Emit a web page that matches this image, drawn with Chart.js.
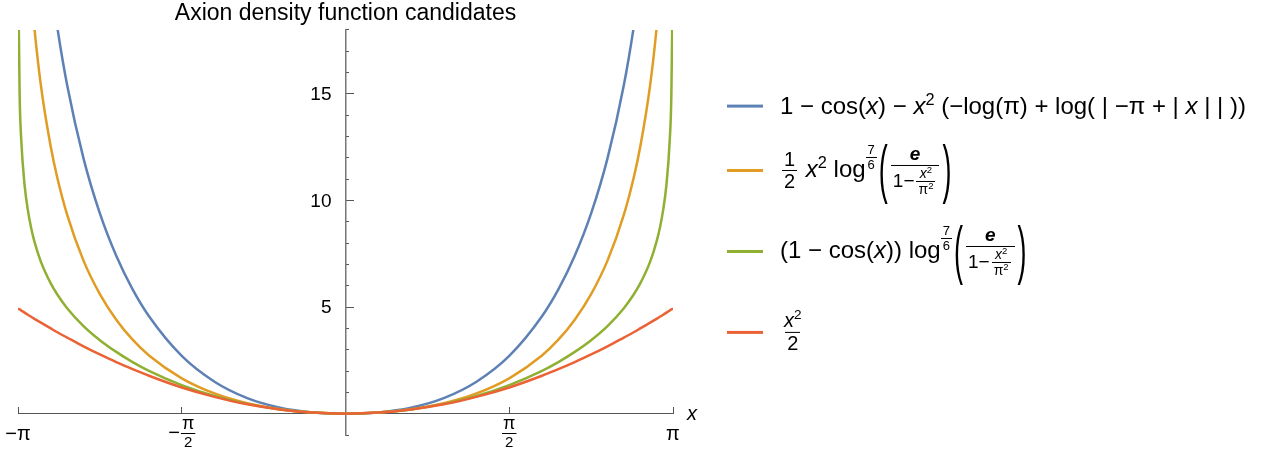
<!DOCTYPE html>
<html>
<head>
<meta charset="utf-8">
<script src="https://cdn.jsdelivr.net/npm/chart.js"></script>
<style>
  body { margin: 0; background: #fff; }
  #wrap { position: relative; width: 1263px; height: 450px; }
  #legend { position: absolute; left: 0; top: 0; font-family: "Liberation Sans", Arial, sans-serif; font-size: 24px; color: #000; }
  .item { position: absolute; left: 727px; display: flex; align-items: center; transform: translateY(-50%); white-space: nowrap; }
  .sw { display: inline-block; width: 36px; height: 3px; margin-right: 17px; flex: none; }
  .expr { display: inline-block; line-height: 1.2; }
  .frac { display: inline-flex; flex-direction: column; align-items: center; vertical-align: middle; line-height: 1.08; margin: 0 2px; }
  .frac > span { padding: 0 2px; }
  .frac > span + span { border-top: 1.5px solid #000; }
  .f20 { font-size: 20px; }
  .f19 { font-size: 19px; }
  .f13 { font-size: 13px; }
  .f14 { font-size: 14px; }
  .supfrac { vertical-align: 23px; margin: 0 1px 0 0; }
  sup { font-size: 0.68em; line-height: 0; vertical-align: 0.55em; }
  .paren { display: inline-block; vertical-align: middle; font-size: 27px; line-height: 1; transform: scaleY(2.4); margin: 0 1px; }
</style>
</head>
<body>
<div id="wrap">
  <canvas id="myChart"></canvas>
  <div id="legend">
    <div class="item" style="top:106px">
      <span class="sw" style="background:#5E81B5"></span>
      <span class="expr">1 − cos(<i>x</i>) − <i>x</i><sup>2</sup> (−log(π) + log( | −π + | <i>x</i> | | ))</span>
    </div>
    <div class="item" style="top:170px">
      <span class="sw" style="background:#E19C24"></span>
      <span class="expr"><span class="frac f20"><span>1</span><span>2</span></span> <i>x</i><sup>2</sup> log<span class="frac f13 supfrac"><span>7</span><span>6</span></span><span class="paren">(</span><span class="frac f19"><span><b><i>e</i></b></span><span>1−<span class="frac f14"><span><i>x</i><sup>2</sup></span><span>π<sup>2</sup></span></span></span></span><span class="paren">)</span></span>
    </div>
    <div class="item" style="top:251px">
      <span class="sw" style="background:#8FB032"></span>
      <span class="expr">(1 − cos(<i>x</i>)) log<span class="frac f13 supfrac"><span>7</span><span>6</span></span><span class="paren">(</span><span class="frac f19"><span><b><i>e</i></b></span><span>1−<span class="frac f14"><span><i>x</i><sup>2</sup></span><span>π<sup>2</sup></span></span></span></span><span class="paren">)</span></span>
    </div>
    <div class="item" style="top:332px">
      <span class="sw" style="background:#EB6235"></span>
      <span class="expr"><span class="frac f20"><span><i>x</i><sup>2</sup></span><span>2</span></span></span>
    </div>
  </div>
</div>
<script>
  // sample positions along x, as fractions of pi
  const xOverPi = [-1, -0.999, -0.995, -0.99, -0.98, -0.97, -0.96, -0.95, -0.93, -0.9, -0.88, -0.85, -0.8, -0.75, -0.7, -0.65, -0.6, -0.5, -0.4, -0.3, -0.2, -0.1,
    0, 0.1, 0.2, 0.3, 0.4, 0.5, 0.6, 0.65, 0.7, 0.75, 0.8, 0.85, 0.88, 0.9, 0.93, 0.95, 0.96, 0.97, 0.98, 0.99, 0.995, 0.999, 1];

  // 1 - cos(x) - x^2 (-log(pi) + log(|-pi + |x||))
  const cosLogValues = [null, null, null, null, null, null, null, null, null, 20.36, 18.13, 15.42, 11.98, 9.40, 7.41, 5.83, 4.57, 2.71, 1.50, 0.73, 0.28, 0.06,
    0, 0.06, 0.28, 0.73, 1.50, 2.71, 4.57, 5.83, 7.41, 9.40, 11.98, 15.42, 18.13, 20.36, null, null, null, null, null, null, null, null, null];

  // 1/2 x^2 log^(7/6)(e / (1 - x^2/pi^2))
  const halfSquareLogValues = [null, null, null, null, null, null, 19.91, 18.11, 15.39, 12.52, 11.07, 9.34, 7.18, 5.61, 4.41, 3.47, 2.73, 1.66, 0.95, 0.49, 0.21, 0.05,
    0, 0.05, 0.21, 0.49, 0.95, 1.66, 2.73, 3.47, 4.41, 5.61, 7.18, 9.34, 11.07, 12.52, 15.39, 18.11, 19.91, null, null, null, null, null, null];

  // (1 - cos(x)) log^(7/6)(e / (1 - x^2/pi^2))
  const cosPowerLogValues = [null, 20.06, 14.95, 12.82, 10.75, 9.56, 8.72, 8.08, 7.12, 6.11, 5.59, 4.95, 4.11, 3.45, 2.90, 2.42, 2.01, 1.34, 0.83, 0.46, 0.20, 0.05,
    0, 0.05, 0.20, 0.46, 0.83, 1.34, 2.01, 2.42, 2.90, 3.45, 4.11, 4.95, 5.59, 6.11, 7.12, 8.08, 8.72, 9.56, 10.75, 12.82, 14.95, 20.06, null];

  // x^2 / 2
  const halfSquareValues = [4.93, 4.92, 4.89, 4.84, 4.74, 4.64, 4.55, 4.45, 4.27, 4.00, 3.82, 3.57, 3.16, 2.78, 2.42, 2.09, 1.78, 1.23, 0.79, 0.44, 0.20, 0.05,
    0, 0.05, 0.20, 0.44, 0.79, 1.23, 1.78, 2.09, 2.42, 2.78, 3.16, 3.57, 3.82, 4.00, 4.27, 4.45, 4.55, 4.64, 4.74, 4.84, 4.89, 4.92, 4.93];

  const seriesColors = ['#5E81B5', '#E19C24', '#8FB032', '#EB6235'];

  const xTickValues = [-Math.PI, -Math.PI / 2, Math.PI / 2, Math.PI];
  const xTickLabels = ['−π', '−π/2', 'π/2', 'π'];
  const yTickLabels = [5, 10, 15];

  const FONT = '"Liberation Sans", Arial, sans-serif';
  const xs = xOverPi.map(t => t * Math.PI);
  const toPoints = vals => xs.map((x, i) => ({ x: x, y: vals[i] }));

  const seriesList = [cosLogValues, halfSquareLogValues, cosPowerLogValues, halfSquareValues];
  const datasets = seriesList.map((vals, i) => ({
    data: toPoints(vals),
    borderColor: seriesColors[i],
    borderWidth: 2.5,
    pointRadius: 0,
    cubicInterpolationMode: 'monotone',
    order: seriesList.length - i   // later curves sit on top
  }));

  // tick labels with stacked fractions (pi over 2) and the axis names
  const axisLabels = {
    id: 'axisLabels',
    afterDraw(chart) {
      const { ctx, scales } = chart;
      const sx = scales.x, sy = scales.y;
      const x0 = sx.getPixelForValue(0);
      const y0 = sy.getPixelForValue(0);
      ctx.save();
      ctx.fillStyle = '#000';
      ctx.strokeStyle = '#000';
      ctx.textBaseline = 'middle';

      ctx.font = '19px ' + FONT;
      ctx.textAlign = 'right';
      yTickLabels.forEach(v => ctx.fillText(String(v), x0 - 14, sy.getPixelForValue(v) + 1));

      xTickValues.forEach((v, i) => {
        const px = sx.getPixelForValue(v);
        let label = xTickLabels[i];
        const neg = label.startsWith('−');
        if (neg) label = label.slice(1);
        ctx.font = '20px ' + FONT;
        const minusW = neg ? ctx.measureText('−').width + 1 : 0;
        if (label.includes('/')) {
          const [num, den] = label.split('/');
          ctx.font = '18px ' + FONT;
          const fw = Math.max(ctx.measureText(num).width, 10) + 2;
          const left = px - (minusW + fw) / 2;
          if (neg) {
            ctx.font = '20px ' + FONT;
            ctx.textAlign = 'left';
            ctx.fillText('−', left, 433);
          }
          const cx = left + minusW + fw / 2;
          ctx.textAlign = 'center';
          ctx.font = '18px ' + FONT;
          ctx.fillText(num, cx, 424);
          ctx.font = '15px ' + FONT;
          ctx.fillText(den, cx, 443);
          ctx.lineWidth = 1;
          ctx.beginPath();
          ctx.moveTo(cx - fw / 2, 433.5);
          ctx.lineTo(cx + fw / 2, 433.5);
          ctx.stroke();
        } else {
          ctx.font = '20px ' + FONT;
          ctx.textAlign = 'center';
          ctx.fillText((neg ? '−' : '') + label, px, 434);
        }
      });

      ctx.font = 'italic 20px ' + FONT;
      ctx.textAlign = 'left';
      ctx.fillText('x', sx.right + 14, y0 + 1);
      ctx.restore();
    }
  };

  const ctx = document.getElementById('myChart');

  new Chart(ctx, {
    type: 'line',
    data: { datasets: datasets },
    plugins: [axisLabels],
    options: {
      responsive: true,
      maintainAspectRatio: false,
      animation: false,
      events: [],
      layout: { padding: { left: 18, right: 590, top: 0, bottom: 15 } },
      plugins: {
        legend: { display: false },
        tooltip: { enabled: false },
        title: {
          display: true,
          text: 'Axion density function candidates',
          color: '#000',
          font: { family: FONT, size: 23, weight: 'normal' },
          lineHeight: 1.2,
          padding: { top: 0, bottom: 2.4 }
        }
      },
      scales: {
        x: {
          type: 'linear',
          min: -Math.PI,
          max: Math.PI,
          position: { y: 0 },
          afterBuildTicks: s => { s.ticks = xTickValues.map(v => ({ value: v })); },
          ticks: { display: false },
          grid: { drawOnChartArea: false, tickLength: -7, tickColor: '#555', tickWidth: 1 },
          border: { color: '#555', width: 1 }
        },
        y: {
          type: 'linear',
          min: -1,
          max: 18,
          position: { x: 0 },
          ticks: { display: false, stepSize: 1 },
          grid: { drawOnChartArea: false, tickLength: -4, tickColor: '#555', tickWidth: 1 },
          border: { color: '#777', width: 1.5 }
        },
        yMajor: {
          type: 'linear',
          axis: 'y',
          min: -1,
          max: 18,
          position: { x: 0 },
          afterBuildTicks: s => { s.ticks = yTickLabels.map(v => ({ value: v })); },
          ticks: { display: false },
          grid: { drawOnChartArea: false, tickLength: -8, tickColor: '#555', tickWidth: 1 },
          border: { display: false }
        }
      }
    }
  });
</script>
</body>
</html>
